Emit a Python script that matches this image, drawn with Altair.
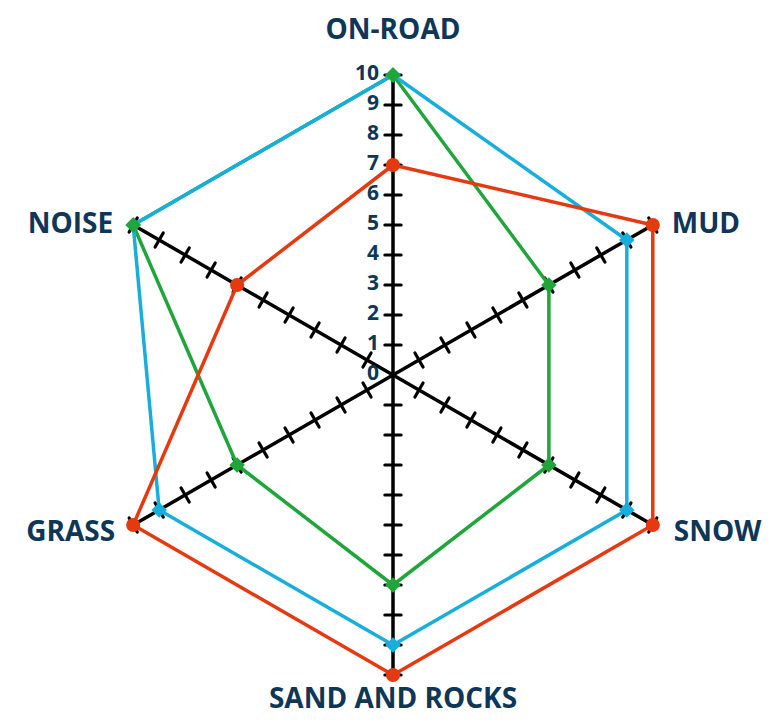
import math
import altair as alt
import pandas as pd

categories = ["ON-ROAD", "MUD", "SNOW", "SAND AND ROCKS", "GRASS", "NOISE"]
red_values = [7, 10, 10, 10, 10, 6]
blue_values = [10, 9, 9, 9, 9, 10]
green_values = [10, 6, 6, 7, 6, 10]
tick_labels = [str(i) for i in range(0, 11)]
series_names = ["red", "blue", "green"]
series_colors = ["#E6390F", "#17AEDB", "#20A53A"]

N = len(categories)
RMAX = 10

def ang(i):
    return 2 * math.pi * i / N

rows = []
for name, vals in zip(series_names, [red_values, blue_values, green_values]):
    for k in range(N + 1):
        i = k % N
        v = vals[i]
        rows.append({"series": name, "order": k, "cat": categories[i], "value": v,
                     "x": v * math.sin(ang(i)), "y": v * math.cos(ang(i))})
series_df = pd.DataFrame(rows)

spokes = pd.DataFrame([{"x": 0, "y": 0, "x2": RMAX * math.sin(ang(i)), "y2": RMAX * math.cos(ang(i))}
                       for i in range(N)])

h = 0.27
ticks = []
for i in range(N):
    a = ang(i)
    for t in range(1, RMAX + 1):
        cx, cy = t * math.sin(a), t * math.cos(a)
        px, py = math.cos(a), -math.sin(a)
        ticks.append({"x": cx - h * px, "y": cy - h * py, "x2": cx + h * px, "y2": cy + h * py})
ticks_df = pd.DataFrame(ticks)

tick_label_df = pd.DataFrame({"label": tick_labels, "y": [int(t) for t in tick_labels], "x": 0})

cat_df = pd.DataFrame({"cat": categories,
                       "x": [RMAX * math.sin(ang(i)) for i in range(N)],
                       "y": [RMAX * math.cos(ang(i)) for i in range(N)]})

W, H = 756, 708
PX = 30.0
xmin = -(393 - 8) / PX
xmax = xmin + W / PX
ymax = (375 - 8) / PX
ymin = ymax - H / PX

xs = alt.Scale(domain=[xmin, xmax], nice=False, zero=False)
ys = alt.Scale(domain=[ymin, ymax], nice=False, zero=False)
X = alt.X("x:Q", scale=xs, axis=None)
Y = alt.Y("y:Q", scale=ys, axis=None)

spoke_layer = alt.Chart(spokes).mark_rule(color="black", strokeWidth=3.5, strokeCap="round").encode(
    x=X, y=Y, x2="x2:Q", y2="y2:Q")
tick_layer = alt.Chart(ticks_df).mark_rule(color="black", strokeWidth=3.2, strokeCap="round").encode(
    x=X, y=Y, x2="x2:Q", y2="y2:Q")

navy = "#0E3657"
tick_text = alt.Chart(tick_label_df).mark_text(
    align="right", baseline="middle", dx=-14, dy=-1, font="Open Sans", fontWeight="bold", fontSize=21, color=navy
).encode(x=X, y=Y, text="label:N")

layers = [spoke_layer, tick_layer, tick_text]

for name, color in reversed(list(zip(series_names, series_colors))):
    d = series_df[series_df.series == name]
    layers.append(alt.Chart(d).mark_line(color=color, strokeWidth=3.5, strokeJoin="round").encode(
        x=X, y=Y, order="order:Q"))
for name, color in zip(series_names, series_colors):
    d = series_df[(series_df.series == name) & (series_df.order < N)]
    shape = "circle" if name == "red" else "diamond"
    size = 200 if name == "red" else 240
    layers.append(alt.Chart(d).mark_point(filled=True, shape=shape, size=size, color=color, opacity=1).encode(
        x=X, y=Y))

label_style = dict(font="Open Sans", fontWeight="bold", fontSize=28, color=navy)
offsets = {
    "ON-ROAD": dict(align="center", baseline="middle", dx=0, dy=-44),
    "MUD": dict(align="left", baseline="middle", dx=19, dy=0),
    "SNOW": dict(align="left", baseline="middle", dx=21, dy=8),
    "SAND AND ROCKS": dict(align="center", baseline="middle", dx=0, dy=25),
    "GRASS": dict(align="right", baseline="middle", dx=-18, dy=8),
    "NOISE": dict(align="right", baseline="middle", dx=-20, dy=0),
}
for c in categories:
    layers.append(alt.Chart(cat_df[cat_df.cat == c]).mark_text(**offsets[c], **label_style).encode(
        x=X, y=Y, text="cat:N"))

chart = alt.layer(*layers).properties(
    width=W, height=H, padding=0, autosize=alt.AutoSizeParams(type="none"),
    background="white"
).configure_view(stroke=None)

chart.save("out.html", embed_options={"renderer": "svg", "actions": False})
